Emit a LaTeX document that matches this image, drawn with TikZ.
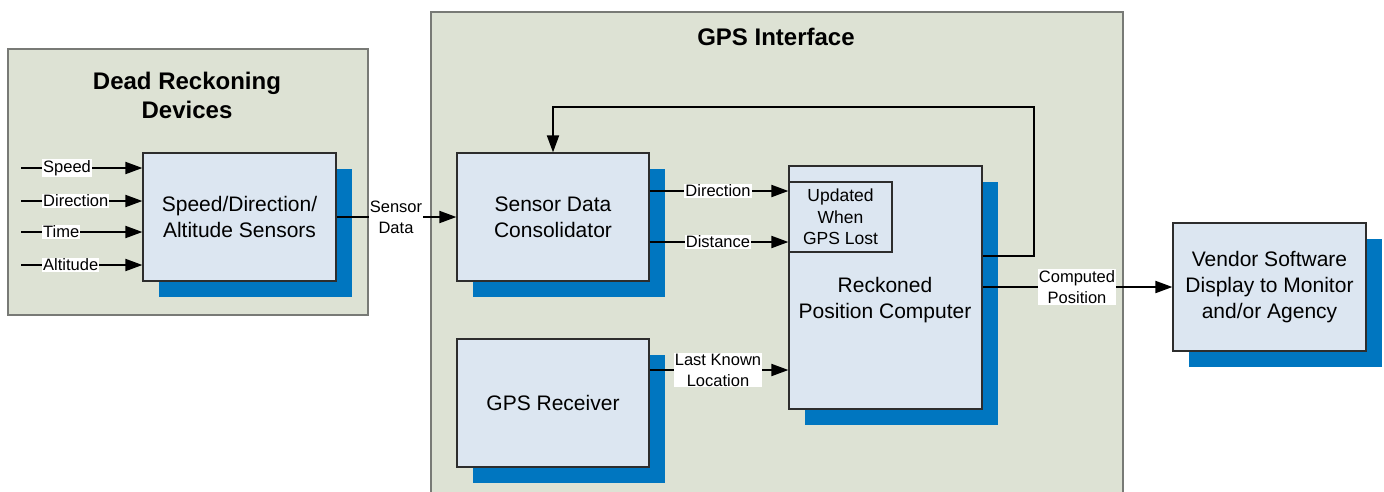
\documentclass[tikz,border=0pt]{standalone}
\usepackage{fontspec}
\setmainfont{Liberation Sans}
\usetikzlibrary{arrows.meta,shadows}
\definecolor{groupfill}{RGB}{221,226,212}
\definecolor{groupline}{RGB}{120,122,118}
\definecolor{boxfill}{RGB}{220,230,241}
\definecolor{boxline}{RGB}{45,45,45}
\definecolor{shadowblue}{RGB}{0,118,192}
\begin{document}
\begin{tikzpicture}[x=1pt,y=-1pt,
  group/.style={draw=groupline, line width=1.5pt, fill=groupfill},
  grouptitle/.style={font=\fontsize{24}{29.5}\selectfont\bfseries, align=center},
  block/.style={draw=boxline, line width=1.2pt, fill=boxfill, align=center,
    inner sep=0pt, font=\fontsize{21}{26}\selectfont,
    drop shadow={shadow xshift=16pt, shadow yshift=-16pt, fill=shadowblue, opacity=1}},
  innerbox/.style={draw=boxline, line width=1.2pt, fill=boxfill, align=center,
    inner sep=0pt, font=\fontsize{17.5}{21.5}\selectfont},
  blocktext/.style={align=center, font=\fontsize{21}{26}\selectfont},
  lbl/.style={fill=white, inner sep=1pt, align=center, font=\fontsize{16.5}{21}\selectfont},
  arr/.style={line width=1.9pt, -{Triangle[length=17pt,width=12pt]}}
]
\useasboundingbox (0,0) rectangle (1384,491);

% group panels
\draw[group] (8,49) rectangle (368,315);
\draw[group] (431,12) rectangle (1123,500);
\node[grouptitle] (drtitle) at (187,95.5) {Dead Reckoning\\Devices};
\node[grouptitle] (gpstitle) at (776,37) {GPS Interface};

% blocks
\node[block, minimum width=193pt, minimum height=128pt] (sens) at (239.5,217) {Speed/Direction/\\Altitude Sensors};
\node[block, minimum width=192pt, minimum height=128pt] (sdc) at (553,217) {Sensor Data\\Consolidator};
\node[block, minimum width=192pt, minimum height=128pt] (gps) at (553,403) {GPS Receiver};
\node[block, minimum width=193pt, minimum height=243pt] (reck) at (885.5,287.5) {};
\node[blocktext] (recktext) at (885,300) {Reckoned\\Position Computer};
\node[innerbox, minimum width=103pt, minimum height=70pt] (upd) at (840.5,217) {Updated\\When\\GPS Lost};
\node[block, minimum width=193pt, minimum height=128pt] (vend) at (1269.5,287) {Vendor Software\\Display to Monitor\\and/or Agency};

% inputs to the sensors
\coordinate (inSpeed) at (21,168);
\coordinate (inDir) at (21,201);
\coordinate (inTime) at (21,232);
\coordinate (inAlt) at (21,265);
\draw[arr] (inSpeed) -- (sens.west |- inSpeed);
\draw[arr] (inDir) -- (sens.west |- inDir);
\draw[arr] (inTime) -- (sens.west |- inTime);
\draw[arr] (inAlt) -- (sens.west |- inAlt);
\node[lbl, anchor=west] (lSpeed) at (42,168) {Speed};
\node[lbl, anchor=west] (lDir) at (42,201) {Direction};
\node[lbl, anchor=west] (lTime) at (42,232) {Time};
\node[lbl, anchor=west] (lAlt) at (42,265) {Altitude};

% sensor data
\draw[arr] (sens.east) -- (sdc.west);
\node[lbl] (lSensor) at (396,217) {Sensor\\Data};

% consolidator to reckoned computer
\coordinate (dirY) at (0,191);
\coordinate (distY) at (0,242);
\coordinate (lkY) at (0,370);
\draw[arr] (sdc.east |- dirY) -- (reck.west |- dirY);
\draw[arr] (sdc.east |- distY) -- (reck.west |- distY);
\draw[arr] (gps.east |- lkY) -- (reck.west |- lkY);
\node[lbl] (lDirection) at (718,191) {Direction};
\node[lbl] (lDistance) at (718,242) {Distance};
\node[lbl] (lLast) at (718,370) {Last Known\\Location};

% feedback loop
\coordinate (fbOut) at (0,256);
\coordinate (fbCorner) at (1034,107);
\draw[arr] (reck.east |- fbOut) -| (fbCorner) -| (sdc.north);

% computed position
\draw[arr] (reck.east |- vend.west) -- (vend.west);
\node[lbl] (lComp) at (1077,287) {Computed\\Position};
\end{tikzpicture}
\end{document}
